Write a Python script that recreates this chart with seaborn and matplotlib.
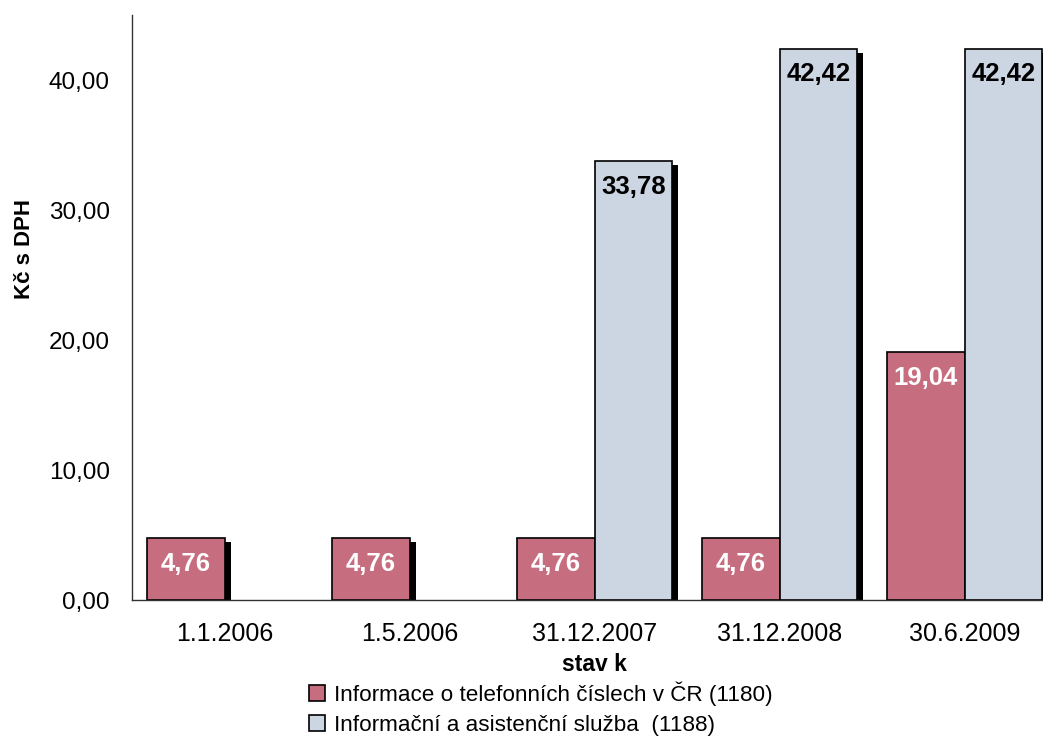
import numpy as np
import pandas as pd
import seaborn as sns
import matplotlib.pyplot as plt
import matplotlib.patheffects as pe
from matplotlib.patches import Patch

# data
dates = ["1.1.2006", "1.5.2006", "31.12.2007", "31.12.2008", "30.6.2009"]
info_1180 = [4.76, 4.76, 4.76, 4.76, 19.04]
info_1188 = [np.nan, np.nan, 33.78, 42.42, 42.42]
series = ["Informace o telefonních číslech v ČR (1180)",
          "Informační a asistenční služba  (1188)"]
colors = ["#C66E80", "#CCD6E2"]
label_colors = ["white", "black"]

df = pd.DataFrame({
    "stav k": dates * 2,
    "value": info_1180 + info_1188,
    "series": [series[0]] * len(dates) + [series[1]] * len(dates),
}).dropna()

sns.set_style("white")
plt.rcParams['font.family'] = ['Liberation Sans', 'DejaVu Sans']
plt.rcParams['text.color'] = 'black'
plt.rcParams['xtick.color'] = 'black'
plt.rcParams['ytick.color'] = 'black'
plt.rcParams['axes.labelcolor'] = 'black'

fig = plt.figure(figsize=(10.43, 7.40), dpi=100)
ax = fig.add_axes([132 / 1043, 1 - 600 / 740, 925 / 1043, 585 / 740])

sns.barplot(data=df, x="stav k", y="value", hue="series", order=dates,
            hue_order=series, palette=colors, saturation=1, width=0.84, gap=0,
            edgecolor="black", linewidth=1.2, legend=False, ax=ax)

# shadow + value labels
shadow = [pe.SimplePatchShadow(offset=(4.5, -3), shadow_rgbFace="black", alpha=1.0),
          pe.Normal()]
for container, tc in zip(ax.containers, label_colors):
    for bar in container:
        h = bar.get_height()
        if np.isnan(h) or h == 0:
            continue
        bar.set_path_effects(shadow)
        ax.annotate(f"{h:.2f}".replace(".", ","),
                    (bar.get_x() + bar.get_width() / 2, h),
                    xytext=(0, -18.5), textcoords="offset points",
                    ha="center", va="center", color=tc,
                    fontsize=18.5, fontweight="bold")

ax.set_ylim(0, 45)
ax.set_xlim(-0.5, len(dates) - 0.5)
ax.set_yticks([0, 10, 20, 30, 40])
ax.set_yticklabels([f"{v:.2f}".replace(".", ",") for v in [0, 10, 20, 30, 40]],
                   fontsize=17.5)

# x ticks between groups, labels at centres
ax.set_xticks(np.arange(len(dates) + 1) - 0.5)
ax.set_xticklabels([])
ax.set_xticks(np.arange(len(dates)), minor=True)
ax.set_xticklabels(dates, minor=True, fontsize=18)
ax.tick_params(axis="x", which="major", direction="out", length=7, width=1, color="#333333")
ax.tick_params(axis="x", which="minor", length=0, pad=16)
ax.tick_params(axis="y", direction="out", length=6, width=1, color="#333333", pad=10)

for s in ["top", "right"]:
    ax.spines[s].set_visible(False)
for s in ["left", "bottom"]:
    ax.spines[s].set_color("#333333")
    ax.spines[s].set_linewidth(1)

ax.set_xlabel("stav k", fontsize=16.5, fontweight="bold", labelpad=5)
ax.set_ylabel("Kč s DPH", fontsize=16, fontweight="bold")
ax.yaxis.set_label_coords(-0.105, 0.6)

handles = [Patch(facecolor=c, edgecolor="black", linewidth=1.2) for c in colors]
fig.legend(handles, series, loc="upper left", bbox_to_anchor=(309 / 1043, 1 - 681 / 740),
           frameon=False, fontsize=16.2, handlelength=0.7, handleheight=0.7,
           handletextpad=0.4, labelspacing=0.42, borderaxespad=0, borderpad=0)

fig.savefig("out.png", dpi=100)
